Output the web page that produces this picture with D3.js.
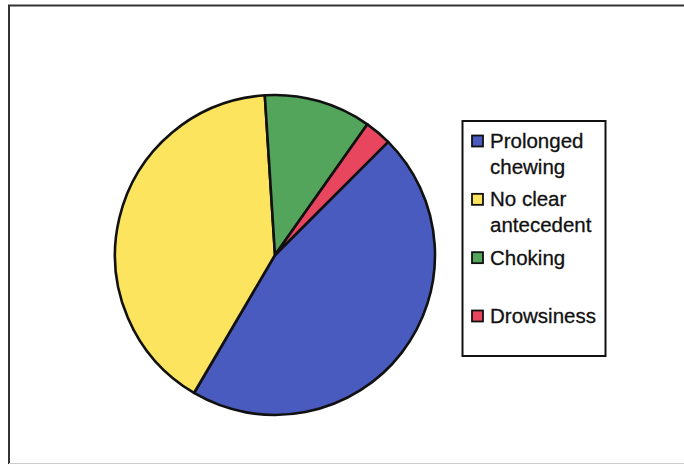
<!DOCTYPE html>
<html>
<head>
<meta charset="utf-8">
<script src="https://cdn.jsdelivr.net/npm/d3@7"></script>
<style>
    body { margin: 0; background: #fff; }
    svg { display: block; }
    .legend-text { font-family: "Liberation Sans", Arial, sans-serif; font-size: 20.5px; fill: #111; stroke: #111; stroke-width: 0.3px; }
</style>
</head>
<body>
<div id="graph"></div>
<script>
/*
    Pie chart of antecedents
*/
var categories = [ "Prolonged chewing", "No clear antecedent", "Choking", "Drowsiness" ]
var labelLines = [ ["Prolonged", "chewing"], ["No clear", "antecedent"], ["Choking"], ["Drowsiness"] ]
var counts = [ 17, 15, 4, 1 ]
var colors = [ "#4a5bbf", "#fce45e", "#52a55a", "#e8465f" ]

var data = categories.map(function ( c, i ) {
    return { "name": c, "value": counts[i], "color": colors[i], "lines": labelLines[i] }
})

var width = 684,
    height = 464

var svg = d3.select("#graph").append("svg")
            .attr("width", width)
            .attr("height", height)

// outer frame (right and bottom cut off in the scan)
svg.append("path")
    .attr("d", "M9,464 L9,5.5 L684,5.5")
    .attr("fill", "none")
    .attr("stroke", "#333")
    .attr("stroke-width", 2)

svg.append("line")
    .attr("x1", 9).attr("x2", 684)
    .attr("y1", 463.5).attr("y2", 463.5)
    .attr("stroke", "#ccc")
    .attr("stroke-width", 1)

// pie, first slice starts at 45 degrees
var radius = 160
var pie = d3.pie()
    .sort(null)
    .value(function ( d ) { return d.value })
    .startAngle(Math.PI / 4)
    .endAngle(Math.PI / 4 + 2 * Math.PI)

var arc = d3.arc()
    .innerRadius(0)
    .outerRadius(radius)

var g = svg.append("g")
    .attr("transform", "translate(275,255)")

g.selectAll("path")
    .data(pie(data))
    .enter()
    .append("path")
    .attr("d", arc)
    .attr("fill", function ( d ) { return d.data.color })
    .attr("stroke", "#111")
    .attr("stroke-width", 2.6)
    .attr("stroke-linejoin", "round")

// legend
var legend = svg.append("g")
    .attr("transform", "translate(462,121)")

legend.append("rect")
    .attr("x", 0.5).attr("y", 0)
    .attr("width", 143)
    .attr("height", 235)
    .attr("fill", "#fff")
    .attr("stroke", "#111")
    .attr("stroke-width", 2)

var yItem = d3.scaleLinear()
    .domain([0, 3])
    .range([14, 189])

var items = legend.selectAll("g.item")
    .data(data)
    .enter()
    .append("g")
    .attr("class", "item")
    .attr("transform", function ( d, i ) { return "translate(0," + yItem(i) + ")" })

items.append("rect")
    .attr("x", 10)
    .attr("y", 0.5)
    .attr("width", 11)
    .attr("height", 11)
    .attr("fill", function ( d ) { return d.color })
    .attr("stroke", "#111")
    .attr("stroke-width", 1.8)

items.append("text")
    .attr("class", "legend-text")
    .attr("x", 28)
    .attr("y", 13)
    .selectAll("tspan")
    .data(function ( d ) { return d.lines })
    .enter()
    .append("tspan")
    .attr("x", 28)
    .attr("dy", function ( d, i ) { return i === 0 ? 0 : 26 })
    .text(function ( d ) { return d })
</script>
</body>
</html>
